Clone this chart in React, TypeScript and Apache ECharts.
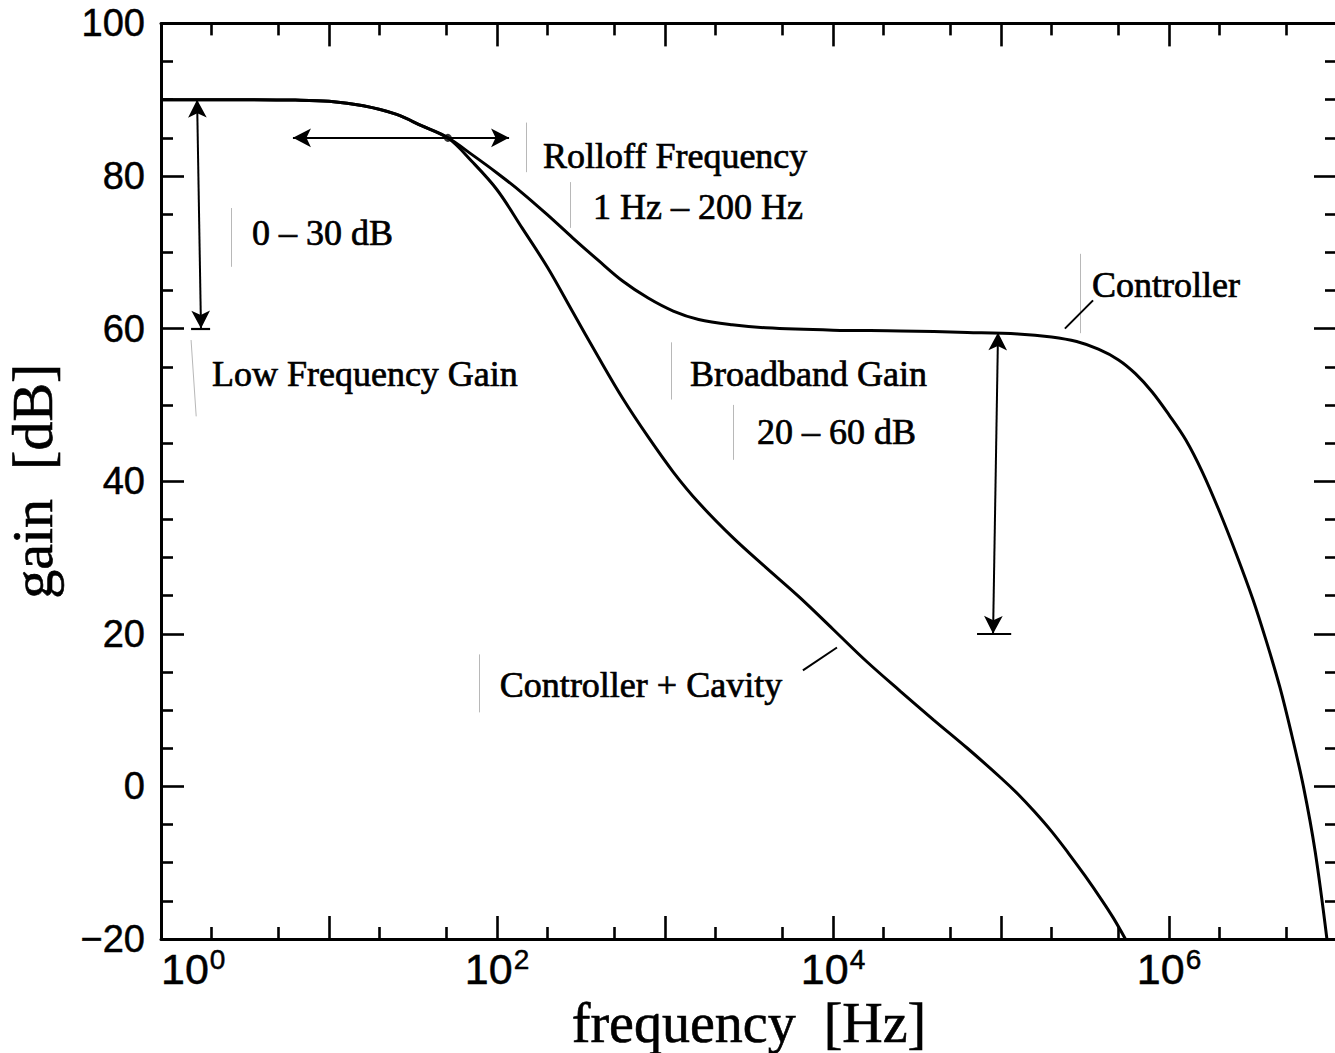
import React, { useEffect, useRef } from "react";
import * as echarts from "echarts";

// ---- Data (frequency in Hz, gain in dB) ----
const controllerFreq = [1, 2.5, 6.3, 10, 16, 25, 35.5, 51, 71, 100, 141, 200, 282, 398, 562, 794, 1120, 1585, 2510, 3980, 10000, 25100, 63100, 126000, 200000, 282000, 380000, 501000, 631000, 794000, 1.0e6, 1.26e6, 1.58e6, 2.0e6, 2.51e6, 3.16e6, 3.8e6, 4.57e6, 5.37e6, 6.31e6, 7.41e6, 8.71e6];
const controllerGain = [90, 90, 89.95, 89.8, 89.2, 88.1, 86.6, 85.0, 82.8, 80.4, 77.8, 74.9, 71.9, 69.0, 66.2, 64.0, 62.3, 61.2, 60.5, 60.1, 59.8, 59.7, 59.5, 59.3, 58.9, 58.3, 57.3, 55.9, 54.1, 51.7, 48.7, 45.4, 41.2, 36.0, 30.5, 24.5, 19.0, 13.0, 6.8, 0.0, -8.5, -20];

const cavityFreq = [1, 2.5, 6.3, 10, 16, 25, 35.5, 51, 71, 100, 141, 200, 282, 398, 562, 794, 1120, 1585, 2510, 3980, 6310, 10000, 15800, 25100, 39800, 63100, 100000, 126000, 158000, 200000, 251000, 316000, 398000, 468000, 550000];
const cavityGain = [90, 90, 89.95, 89.8, 89.2, 88.1, 86.6, 85.0, 81.9, 78.2, 73.2, 68.0, 62.2, 56.4, 50.8, 45.8, 41.2, 37.2, 32.7, 28.7, 24.8, 20.6, 16.4, 12.5, 8.7, 5.0, 1.1, -1.0, -3.3, -5.9, -8.7, -11.7, -14.9, -17.3, -20];

// ---- Axis ticks ----
const xMajorDecades = [0, 1, 2, 3, 4, 5, 6, 7];
const xLabelDecades = [0, 2, 4, 6];
const xMinorMultipliers = [2, 5];
const yMin = -20;
const yMax = 100;
const yStep = 20;

// ---- Annotations: [Hz, dB] pairs ----
const lowFreqArrow = [[1.64, 90], [1.73, 60]];
const lowFreqBar = [[1.51, 60], [1.96, 60]];
const rolloffArrow = [[6.1, 85], [118, 85]];
const rolloffDot = [51, 85];
const broadbandArrow = [[96000, 59.5], [89700, 20]];
const broadbandBar = [[72000, 20], [115000, 20]];
const controllerLeader = [[240000, 60.0], [353000, 63.7]];
const cavityLeader = [[6620, 15.2], [10560, 18.2]];
const faintMarks = [
  [[2.61, 75.8], [2.61, 68.1]],
  [[1.51, 58.5], [1.62, 48.5]],
  [[149, 87.0], [149, 80.5]],
  [[272, 79.2], [272, 73.2]],
  [[1086, 58.2], [1086, 50.7]],
  [[2540, 50.0], [2540, 42.8]],
  [[295000, 69.8], [295000, 59.4]],
  [[78, 17.3], [78, 9.7]],
];
const labelTexts = ["0 – 30 dB", "Rolloff Frequency", "1 Hz – 200 Hz", "Low Frequency Gain", "Broadband Gain", "20 – 60 dB", "Controller", "Controller + Cavity"];
const labelAnchors = [[3.48, 72.5], [188, 82.6], [373, 75.9], [2.01, 54], [1408, 54], [3530, 46.5], [348000, 65.7], [104, 13.35]];

const xTitle = "frequency  [Hz]";
const yTitle = "gain  [dB]";

const SERIF = "Liberation Serif";
const SANS = "Liberation Sans";

const toXY = (p: number[]) => [Math.log10(p[0]), p[1]];

export default function App() {
  const ref = useRef<HTMLDivElement>(null);

  useEffect(() => {
    document.body.style.margin = "0";
    document.body.style.overflow = "hidden";
    const chart = echarts.init(ref.current!, null, { renderer: "svg" });

    const minorTicks: number[] = [];
    for (let k = 0; k < 7; k++) xMinorMultipliers.forEach((m) => minorTicks.push(k + Math.log10(m)));

    const lineStyleAxis = { color: "#000", width: 3 };
    const tickStyle = { color: "#000", width: 2.6 };

    const xBase = (position: string, ticks: number[], len: number, showLine: boolean, showLabel: boolean) => ({
      type: "value",
      position,
      min: 0,
      max: 7,
      axisLine: { show: showLine, onZero: false, lineStyle: lineStyleAxis },
      axisTick: { show: true, inside: true, length: len, customValues: ticks, lineStyle: tickStyle },
      axisLabel: showLabel
        ? {
            show: true,
            customValues: xLabelDecades,
            alignMinLabel: "left",
            margin: 11,
            formatter: (v: number) => `{a|10}{b|${v}}`,
            rich: {
              a: { fontFamily: SANS, fontSize: 43, color: "#000", lineHeight: 40, verticalAlign: "bottom", textBorderColor: "#000", textBorderWidth: 0.5 },
              b: { fontFamily: SANS, fontSize: 28, color: "#000", lineHeight: 26, verticalAlign: "bottom", padding: [0, 0, 17, 1], textBorderColor: "#000", textBorderWidth: 0.5 },
            },
          }
        : { show: false },
      splitLine: { show: false },
    });

    const yBase = (position: string, showLabel: boolean) => ({
      type: "value",
      position,
      min: yMin,
      max: yMax,
      interval: yStep,
      axisLine: { show: true, onZero: false, lineStyle: lineStyleAxis },
      axisTick: { show: true, inside: true, length: 23, lineStyle: tickStyle },
      minorTick: { show: true, splitNumber: 4, length: 12, lineStyle: tickStyle },
      axisLabel: showLabel
        ? {
            show: true,
            fontFamily: SANS,
            fontSize: 38,
            color: "#000",
            margin: 16,
            textBorderColor: "#000",
            textBorderWidth: 0.5,
            formatter: (v: number) => (v < 0 ? "\u2212" + Math.abs(v) : String(v)),
          }
        : { show: false },
      splitLine: { show: false },
      minorSplitLine: { show: false },
    });

    const arrowLine = (pts: number[][], width = 2) => [
      { coord: toXY(pts[0]), symbol: "arrow", symbolSize: [14, 18], lineStyle: { color: "#000", width, type: "solid" } },
      { coord: toXY(pts[1]), symbol: "arrow", symbolSize: [14, 18] },
    ];
    const plainLine = (pts: number[][], color = "#000", width = 1.6) => [
      { coord: toXY(pts[0]), symbol: "none", lineStyle: { color, width, type: "solid" } },
      { coord: toXY(pts[1]), symbol: "none" },
    ];

    chart.setOption({
      animation: false,
      backgroundColor: "#fff",
      grid: { left: 161, top: 23.4, right: -2, bottom: 114, outerBoundsMode: "none" },
      xAxis: [
        xBase("bottom", xMajorDecades, 23, true, true),
        xBase("bottom", minorTicks, 12, false, false),
        xBase("top", xMajorDecades, 23, true, false),
        xBase("top", minorTicks, 12, false, false),
      ],
      yAxis: [yBase("left", true), yBase("right", false)],
      series: [
        {
          type: "line",
          name: "Controller",
          data: controllerFreq.map((f, i) => [Math.log10(f), controllerGain[i]]),
          showSymbol: false,
          smooth: 0.35,
          lineStyle: { color: "#000", width: 3 },
          silent: true,
          markLine: {
            silent: true,
            animation: false,
            label: { show: false },
            emphasis: { disabled: true },
            data: [
              ...faintMarks.map((m) => plainLine(m, "#b8b8b8", 1)),
              arrowLine(lowFreqArrow),
              plainLine(lowFreqBar, "#000", 2.2),
              arrowLine(rolloffArrow),
              arrowLine(broadbandArrow),
              plainLine(broadbandBar, "#000", 2.2),
              plainLine(controllerLeader, "#000", 2),
              plainLine(cavityLeader, "#000", 2),
            ],
          },
        },
        {
          type: "line",
          name: "Controller + Cavity",
          data: cavityFreq.map((f, i) => [Math.log10(f), cavityGain[i]]),
          showSymbol: false,
          smooth: 0.35,
          lineStyle: { color: "#000", width: 3 },
          silent: true,
        },
        {
          type: "scatter",
          data: [toXY(rolloffDot)],
          symbol: "circle",
          symbolSize: 8,
          itemStyle: { color: "#000" },
          silent: true,
        },
      ],
    });

    const texts = labelTexts.map((t, i) => {
      const [px, py] = chart.convertToPixel({ xAxisIndex: 0, yAxisIndex: 0 }, toXY(labelAnchors[i])) as number[];
      return {
        type: "text",
        x: px,
        y: py,
        silent: true,
        style: { text: t, fontFamily: SERIF, fontSize: 36, fill: "#000", stroke: "#000", lineWidth: 0.7, align: "left", verticalAlign: "middle" },
      };
    });
    const [x0] = chart.convertToPixel({ xAxisIndex: 0, yAxisIndex: 0 }, [0, 0]) as number[];
    const [x7] = chart.convertToPixel({ xAxisIndex: 0, yAxisIndex: 0 }, [7, 0]) as number[];
    const [, yTop] = chart.convertToPixel({ xAxisIndex: 0, yAxisIndex: 0 }, [0, yMax]) as number[];
    const [, yBot] = chart.convertToPixel({ xAxisIndex: 0, yAxisIndex: 0 }, [0, yMin]) as number[];

    chart.setOption({
      graphic: [
        ...texts,
        {
          type: "text",
          x: (x0 + x7) / 2,
          y: yBot + 84,
          silent: true,
          style: { text: xTitle, fontFamily: SERIF, fontSize: 56, fill: "#000", stroke: "#000", lineWidth: 0.6, align: "center", verticalAlign: "middle" },
        },
        {
          type: "text",
          x: 32,
          y: (yTop + yBot) / 2,
          rotation: Math.PI / 2,
          silent: true,
          style: { text: yTitle, fontFamily: SERIF, fontSize: 58, fill: "#000", stroke: "#000", lineWidth: 0.6, align: "center", verticalAlign: "middle" },
        },
      ],
    });

    return () => chart.dispose();
  }, []);

  return <div ref={ref} style={{ width: 1335, height: 1053 }} />;
}
